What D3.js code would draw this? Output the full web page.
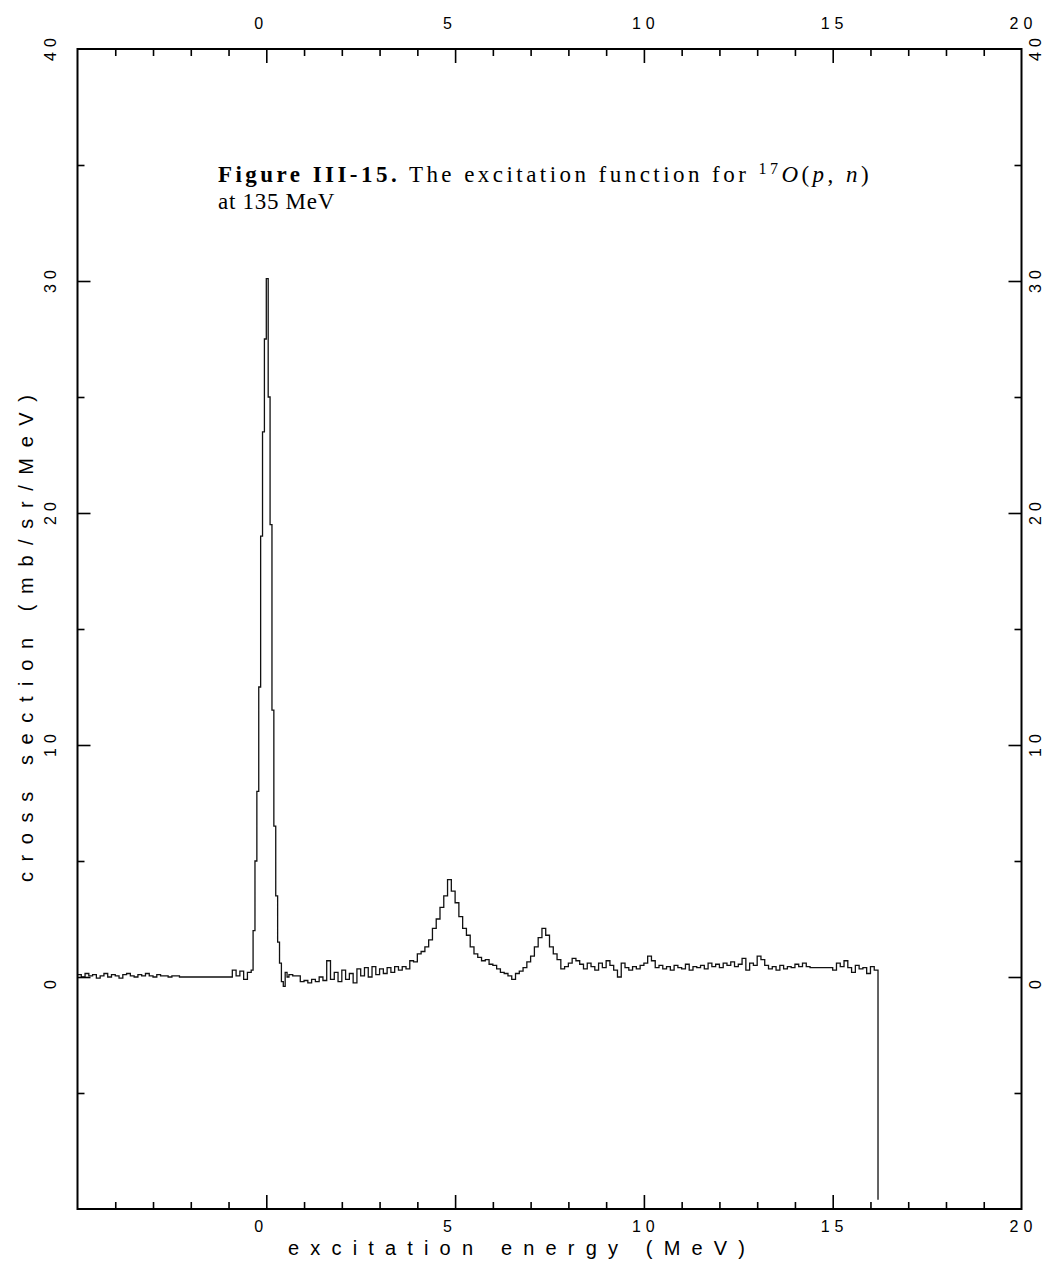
<!DOCTYPE html>
<html>
<head>
<meta charset="utf-8">
<script src="https://cdn.jsdelivr.net/npm/d3@7"></script>
<style>
  body { margin: 0; background: #fff; }
  text { white-space: pre; }
</style>
</head>
<body>
<svg id="chart" width="1050" height="1266"></svg>
<script>
// spectrum. 0.1 MeV bins unless noted
var lowStart = -5.0;
var lowVals = [0.1,0.0,0.15,0.05,0.1,-0.05,0.05,0.15,0.0,0.1,0.05,-0.05,0.1,0.15,0.05,0.0,0.1,0.05,0.15,0.05,0.0,0.1,0.05,0.05,0.0,0.05,0.05];
var gapLow = [-2.3, -0.9, 0.0];          // flat run, no data
var preStart = -0.9;
var preVals = [0.3,0.05,0.25,-0.1,0.2];
var peakStart = -0.4;                    // 0.05 MeV bins over the g.s. peak
var peakVals = [0.3,2.0,5.0,8.0,12.5,19.0,23.5,27.5,30.1,25.0,19.5,11.5,6.5,3.5,1.5,0.6,-0.2,-0.4,0.2,0.0];
var contStart = 0.6;
var contVals = [
  0.1,0.05,0.05,-0.2,-0.15,-0.25,-0.1,-0.2,0.0,-0.15,
  0.7,-0.1,0.2,-0.2,0.3,-0.1,0.15,-0.25,0.35,0.05,
  0.4,0.0,0.45,0.1,0.35,0.15,0.4,0.2,0.45,0.3,
  0.45,0.35,0.7,0.65,1.0,1.1,1.3,1.6,2.1,2.5,
  3.0,3.5,4.2,3.7,3.2,2.6,2.1,1.8,1.3,1.0,
  0.85,0.7,0.75,0.55,0.5,0.35,0.2,0.15,0.05,-0.1,
  0.15,0.25,0.4,0.65,0.9,1.3,1.7,2.1,1.8,1.3,
  1.0,0.75,0.35,0.45,0.6,0.8,0.7,0.55,0.35,0.6,
  0.45,0.3,0.6,0.4,0.7,0.5,0.3,0.0,0.6,0.4,
  0.3,0.45,0.35,0.5,0.6,0.9,0.7,0.4,0.5,0.35,
  0.45,0.3,0.5,0.4,0.35,0.55,0.3,0.45,0.4,0.5,
  0.35,0.6,0.45,0.55,0.4,0.6,0.5,0.65,0.45,0.55,
  0.8,0.3,0.6,0.5,0.9,0.75,0.5,0.35,0.45,0.3,
  0.5,0.35,0.45,0.4,0.55,0.45,0.6,0.45];
var gapHigh = [14.4, 15.0, 0.4];
var tailStart = 15.0;
var tailVals = [0.3,0.6,0.45,0.7,0.4,0.2,0.5,0.35,0.4,0.15,0.45,0.3];
var cutoff = [16.2, -9.6];

var xLabels = [0, 5, 10, 15, 20];
var yLabels = [0, 10, 20, 30, 40];
var xMajor = [0, 5, 10, 15];
var xMinor = [-4,-3,-2,-1,1,2,3,4,6,7,8,9,11,12,13,14,16,17,18,19];
var yMajor = [0, 10, 20, 30];
var yMinor = [-5, 5, 15, 25, 35];

var svg = d3.select("#chart");
var x = d3.scaleLinear().domain([-5, 20]).range([77.5, 1021.5]);
var y = d3.scaleLinear().domain([-10, 40]).range([1209, 49]);

// build histogram bins
var bins = [];
function addRun(start, step, vals) {
  vals.forEach(function(v, i) {
    bins.push([start + i * step, start + (i + 1) * step, v]);
  });
}
addRun(lowStart, 0.1, lowVals);
bins.push(gapLow);
addRun(preStart, 0.1, preVals);
addRun(peakStart, 0.05, peakVals);
addRun(contStart, 0.1, contVals);
bins.push(gapHigh);
addRun(tailStart, 0.1, tailVals);

var pts = [];
bins.forEach(function(b) { pts.push([b[0], b[2]], [b[1], b[2]]); });
pts.push(cutoff);

var line = d3.line().x(d => x(d[0])).y(d => y(d[1]));

svg.append("path")
  .attr("d", line(pts))
  .attr("fill", "none")
  .attr("stroke", "#111")
  .attr("stroke-width", 1.3);

// frame
svg.append("rect")
  .attr("x", x(-5)).attr("y", y(40))
  .attr("width", x(20) - x(-5)).attr("height", y(-10) - y(40))
  .attr("fill", "none").attr("stroke", "#000").attr("stroke-width", 2);

// inward ticks on all four sides
function ticks(axisFn, pos, vals, len) {
  var g = svg.append("g").attr("transform", pos)
    .call(axisFn.tickValues(vals).tickSize(-len).tickSizeOuter(0).tickFormat(""));
  g.select(".domain").remove();
  g.selectAll("line").attr("stroke", "#000").attr("stroke-width", 1.6);
}
ticks(d3.axisBottom(x), "translate(0," + y(-10) + ")", xMinor, 7);
ticks(d3.axisBottom(x), "translate(0," + y(-10) + ")", xMajor, 14);
ticks(d3.axisTop(x), "translate(0," + y(40) + ")", xMinor, 7);
ticks(d3.axisTop(x), "translate(0," + y(40) + ")", xMajor, 14);
ticks(d3.axisLeft(y), "translate(" + x(-5) + ",0)", yMinor, 7);
ticks(d3.axisLeft(y), "translate(" + x(-5) + ",0)", yMajor, 13);
ticks(d3.axisRight(y), "translate(" + x(20) + ",0)", yMinor, 7);
ticks(d3.axisRight(y), "translate(" + x(20) + ",0)", yMajor, 13);

// tick labels, plotter style (two-character slots)
var lab = { "font-family": "Liberation Sans, Arial, sans-serif", "font-size": "16px", "letter-spacing": "5px" };
function styled(sel, s) { Object.keys(s).forEach(k => sel.style(k, s[k])); return sel; }

xLabels.forEach(function(v) {
  [1232, 29].forEach(function(by) {
    styled(svg.append("text"), lab)
      .attr("x", x(v) - 12).attr("y", by)
      .text(String(v));
  });
});
yLabels.forEach(function(v) {
  [56, 1041].forEach(function(bx) {
    styled(svg.append("text"), lab)
      .attr("transform", "translate(" + bx + "," + (y(v) + 12) + ") rotate(-90)")
      .text(String(v));
  });
});

// axis titles
svg.append("text")
  .attr("x", 288).attr("y", 1255)
  .attr("textLength", 457).attr("lengthAdjust", "spacing")
  .style("font-family", "Liberation Sans, Arial, sans-serif")
  .style("font-size", "20px")
  .text("excitation energy (MeV)");

svg.append("text")
  .attr("transform", "translate(33,882) rotate(-90)")
  .attr("textLength", 487).attr("lengthAdjust", "spacing")
  .style("font-family", "Liberation Sans, Arial, sans-serif")
  .style("font-size", "20px")
  .text("cross section (mb/sr/MeV)");

// caption; lines spread out to the widths seen in the scan
var capFont = "Liberation Serif, Times New Roman, serif";
var capLeft = 218;
function spreadTo(sel, right) {
  var natural = sel.node().getComputedTextLength();
  var ls = Math.max(0, (right - capLeft - natural) / sel.text().length);
  sel.style("letter-spacing", ls + "px");
}

var cap = svg.append("text")
  .attr("x", capLeft).attr("y", 182)
  .style("font-family", capFont)
  .style("font-size", "23px");
cap.append("tspan").style("font-weight", "bold").text("Figure III-15.");
cap.append("tspan").text(" The excitation function for ");
cap.append("tspan").attr("dy", -8).style("font-size", "16px").text("17");
cap.append("tspan").attr("dy", 8).style("font-style", "italic").text("O");
cap.append("tspan").text("(");
cap.append("tspan").style("font-style", "italic").text("p");
cap.append("tspan").text(", ");
cap.append("tspan").style("font-style", "italic").text("n");
cap.append("tspan").text(")");
spreadTo(cap, 872);

var cap2 = svg.append("text")
  .attr("x", capLeft).attr("y", 209)
  .style("font-family", capFont)
  .style("font-size", "23px")
  .text("at 135 MeV");
spreadTo(cap2, 335);
</script>
</body>
</html>
